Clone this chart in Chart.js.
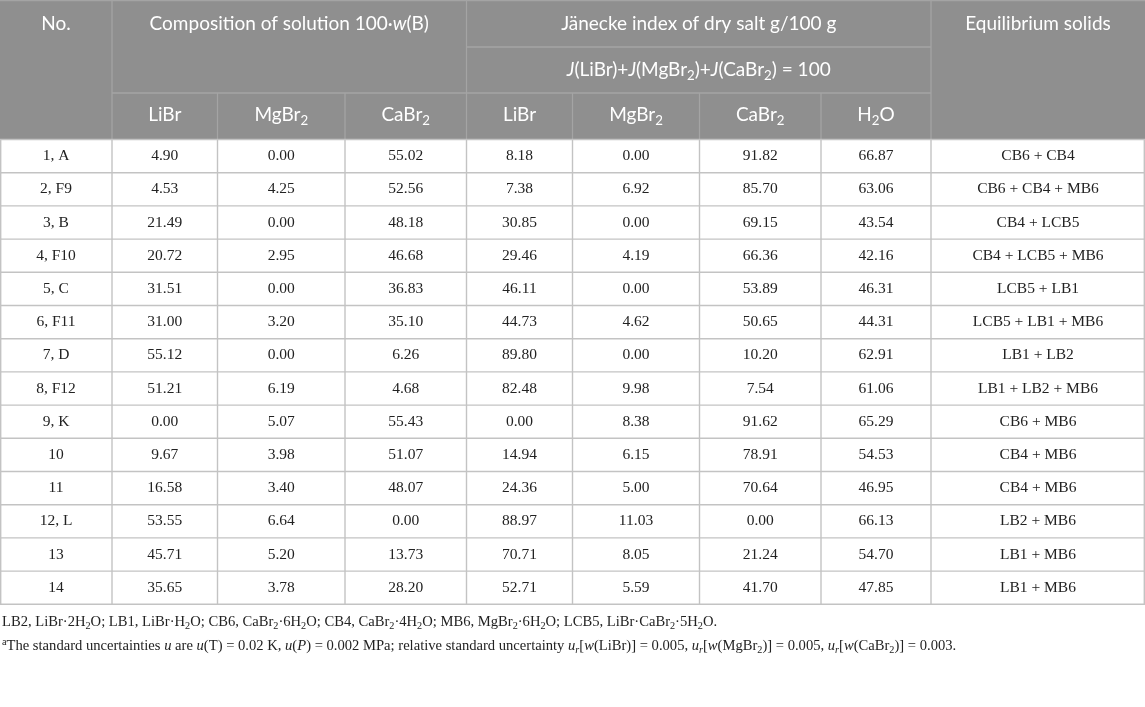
<!DOCTYPE html>
<html>
<head>
<meta charset="utf-8">
<script src="https://cdn.jsdelivr.net/npm/chart.js@4.4.1/dist/chart.umd.min.js"></script>
<style>
html,body{margin:0;padding:0;background:#fff;}
#wrap{width:1145px;height:707px;}
</style>
</head>
<body>
<div id="wrap"><canvas id="c" width="1145" height="707"></canvas></div>
<script>
// ---------------- DATA ----------------
const rowLabels = ["1, A","2, F9","3, B","4, F10","5, C","6, F11","7, D","8, F12","9, K","10","11","12, L","13","14"];
const compLiBr  = [4.90,4.53,21.49,20.72,31.51,31.00,55.12,51.21,0.00,9.67,16.58,53.55,45.71,35.65];
const compMgBr2 = [0.00,4.25,0.00,2.95,0.00,3.20,0.00,6.19,5.07,3.98,3.40,6.64,5.20,3.78];
const compCaBr2 = [55.02,52.56,48.18,46.68,36.83,35.10,6.26,4.68,55.43,51.07,48.07,0.00,13.73,28.20];
const janLiBr   = [8.18,7.38,30.85,29.46,46.11,44.73,89.80,82.48,0.00,14.94,24.36,88.97,70.71,52.71];
const janMgBr2  = [0.00,6.92,0.00,4.19,0.00,4.62,0.00,9.98,8.38,6.15,5.00,11.03,8.05,5.59];
const janCaBr2  = [91.82,85.70,69.15,66.36,53.89,50.65,10.20,7.54,91.62,78.91,70.64,0.00,21.24,41.70];
const janH2O    = [66.87,63.06,43.54,42.16,46.31,44.31,62.91,61.06,65.29,54.53,46.95,66.13,54.70,47.85];
const solids    = ["CB6 + CB4","CB6 + CB4 + MB6","CB4 + LCB5","CB4 + LCB5 + MB6","LCB5 + LB1","LCB5 + LB1 + MB6","LB1 + LB2","LB1 + LB2 + MB6","CB6 + MB6","CB4 + MB6","CB4 + MB6","LB2 + MB6","LB1 + MB6","LB1 + MB6"];

// header texts (markup: |italic|, ~subscript~, ^superscript^)
const headNo = "No.";
const headComp = "Composition of solution 100·|w|(B)";
const headJan = "Jänecke index of dry salt g/100 g";
const headSum = "|J|(LiBr)+|J|(MgBr~2~)+|J|(CaBr~2~) = 100";
const headSolids = "Equilibrium solids";
const subHeads = ["LiBr","MgBr~2~","CaBr~2~","LiBr","MgBr~2~","CaBr~2~","H~2~O"];
const footnotes = [
  "LB2, LiBr·2H~2~O; LB1, LiBr·H~2~O; CB6, CaBr~2~·6H~2~O; CB4, CaBr~2~·4H~2~O; MB6, MgBr~2~·6H~2~O; LCB5, LiBr·CaBr~2~·5H~2~O.",
  "^a^The standard uncertainties |u| are |u|(T) = 0.02 K, |u|(|P|) = 0.002 MPa; relative standard uncertainty |u|~|r|~[|w|(LiBr)] = 0.005, |u|~|r|~[|w|(MgBr~2~)] = 0.005, |u|~|r|~[|w|(CaBr~2~)] = 0.003."
];

// ---------------- LAYOUT ----------------
const colEdges = [0,112,217.5,345,466.5,572.5,699.5,821,931,1145];
const headRowEdges = [0,47,93,139.5];
const dataTop = 139.5, rowH = 33.2;
const footY = [622.5, 646.5];
const HEAD_BG = "#8f8f8f", HEAD_LINE = "#a4a4a4", GRID = "#c3c3c3";
const SANS = "Lato, 'Open Sans', sans-serif";
const SERIF = "'Liberation Serif', 'DejaVu Serif', serif";
const HEAD_SIZE = 19, DATA_SIZE = 15.5, FOOT_SIZE = 14.6;

const numericCols = [compLiBr, compMgBr2, compCaBr2, janLiBr, janMgBr2, janCaBr2, janH2O];

function colCenter(i){ return (colEdges[i]+colEdges[i+1])/2; }
function rowCenter(r){ return dataTop + rowH*(r+0.5); }

const datasets = [];
datasets.push({label:"No.", data: rowLabels.map((t,r)=>({x:colCenter(0), y:rowCenter(r), t:t}))});
numericCols.forEach((arr,ci)=>{
  datasets.push({label:"c"+ci, data: arr.map((v,r)=>({x:colCenter(ci+1), y:rowCenter(r), t:v.toFixed(2)}))});
});
datasets.push({label:"solids", data: solids.map((t,r)=>({x:colCenter(8), y:rowCenter(r), t:t}))});
datasets.forEach(d=>{ d.pointRadius=0; d.pointHoverRadius=0; d.showLine=false; });

function parseRich(str){
  const segs=[]; let it=false, sub=false, sup=false, buf="";
  const push=()=>{ if(buf){segs.push({t:buf,it,sub,sup}); buf="";} };
  for(const ch of str){
    if(ch==='|'){push(); it=!it;}
    else if(ch==='~'){push(); sub=!sub;}
    else if(ch==='^'){push(); sup=!sup;}
    else buf+=ch;
  }
  push(); return segs;
}
function drawRich(ctx, str, x, y, size, family, color, align){
  const segs=parseRich(str);
  let total=0;
  segs.forEach(s=>{
    const sz=(s.sub||s.sup)?size*0.7:size;
    s.font=(s.it?"italic ":"")+sz+"px "+family;
    ctx.font=s.font; s.w=ctx.measureText(s.t).width; total+=s.w;
    s.dy = s.sub? size*0.28 : (s.sup? -size*0.32 : 0);
  });
  let cx = align==="center"? x-total/2 : x;
  ctx.fillStyle=color; ctx.textBaseline="middle"; ctx.textAlign="left";
  segs.forEach(s=>{ ctx.font=s.font; ctx.fillText(s.t,cx,y+s.dy); cx+=s.w; });
}

const tablePlugin = {
  id:"tablePlugin",
  beforeDatasetsDraw(chart){
    const ctx=chart.ctx, xs=chart.scales.x, ys=chart.scales.y;
    const X=v=>xs.getPixelForValue(v), Y=v=>ys.getPixelForValue(v);
    ctx.save();
    ctx.fillStyle=HEAD_BG;
    ctx.fillRect(X(colEdges[0]),Y(0),X(colEdges[9])-X(colEdges[0]),Y(headRowEdges[3])-Y(0));
    ctx.strokeStyle=HEAD_LINE; ctx.lineWidth=1.3;
    const line=(x1,y1,x2,y2)=>{ctx.beginPath();ctx.moveTo(X(x1),Y(y1));ctx.lineTo(X(x2),Y(y2));ctx.stroke();};
    [1,4,8].forEach(i=>line(colEdges[i],0,colEdges[i],headRowEdges[3]));
    [2,3,5,6,7].forEach(i=>line(colEdges[i],headRowEdges[2],colEdges[i],headRowEdges[3]));
    line(colEdges[4],headRowEdges[1],colEdges[8],headRowEdges[1]);
    line(colEdges[1],headRowEdges[2],colEdges[8],headRowEdges[2]);
    line(colEdges[0],0.6,colEdges[9],0.6);
    ctx.strokeStyle=GRID; ctx.lineWidth=1.4;
    const bottom=dataTop+rowH*rowLabels.length;
    for(let r=0;r<=rowLabels.length;r++) line(colEdges[0],dataTop+rowH*r,colEdges[9],dataTop+rowH*r);
    colEdges.forEach((e,i)=>{ const xe = i===0?0.7:(i===colEdges.length-1?e-0.7:e); line(xe,dataTop,xe,bottom); });
    const hc=(a,b)=>(X(colEdges[a])+X(colEdges[b]))/2;
    const hy=i=>(Y(headRowEdges[i])+Y(headRowEdges[i+1]))/2;
    drawRich(ctx,headNo,hc(0,1),hy(0),HEAD_SIZE,SANS,"#fff","center");
    drawRich(ctx,headComp,hc(1,4),hy(0),HEAD_SIZE,SANS,"#fff","center");
    drawRich(ctx,headJan,hc(4,8),hy(0),HEAD_SIZE,SANS,"#fff","center");
    drawRich(ctx,headSolids,hc(8,9),hy(0),HEAD_SIZE,SANS,"#fff","center");
    drawRich(ctx,headSum,hc(4,8),hy(1),HEAD_SIZE,SANS,"#fff","center");
    subHeads.forEach((t,i)=>drawRich(ctx,t,hc(i+1,i+2),hy(2)-1,HEAD_SIZE,SANS,"#fff","center"));
    footnotes.forEach((t,i)=>drawRich(ctx,t,X(2),Y(footY[i]),FOOT_SIZE,SERIF,"#222","left"));
    ctx.restore();
  },
  afterDatasetsDraw(chart){
    const ctx=chart.ctx;
    ctx.save();
    chart.data.datasets.forEach((ds,di)=>{
      const meta=chart.getDatasetMeta(di);
      meta.data.forEach((pt,i)=>{
        drawRich(ctx,ds.data[i].t,pt.x,pt.y,DATA_SIZE,SERIF,"#222","center");
      });
    });
    ctx.restore();
  }
};

new Chart(document.getElementById("c"),{
  type:"scatter",
  data:{datasets},
  options:{
    responsive:false, animation:false, devicePixelRatio:1,
    layout:{padding:0},
    plugins:{legend:{display:false},tooltip:{enabled:false}},
    events:[],
    scales:{
      x:{type:"linear",min:0,max:1145,display:false},
      y:{type:"linear",min:0,max:707,reverse:true,display:false}
    }
  },
  plugins:[tablePlugin]
});
</script>
</body>
</html>
